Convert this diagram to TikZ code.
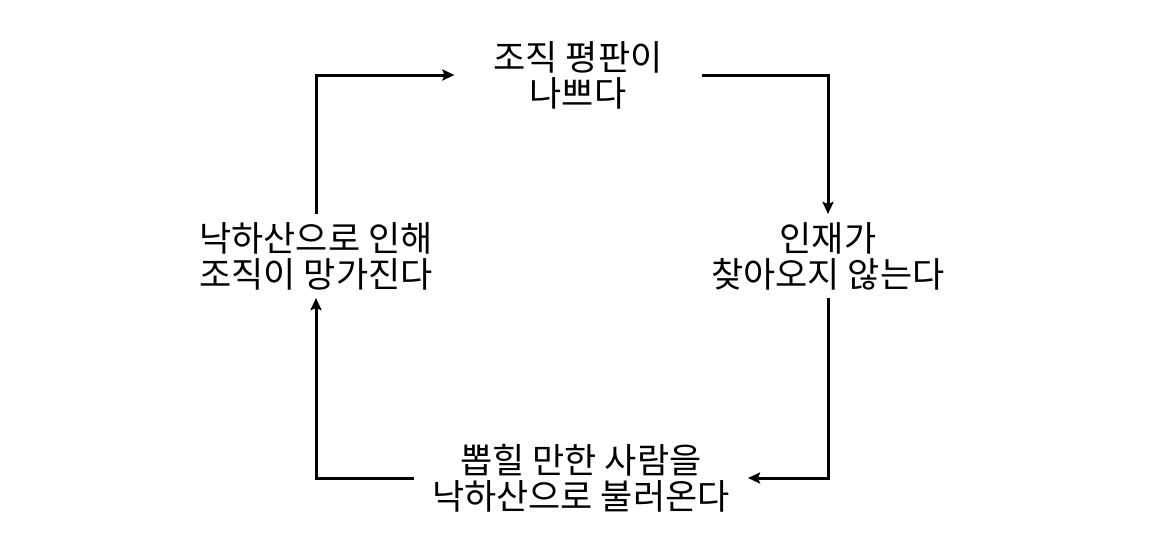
\documentclass[tikz,border=0pt]{standalone}
\usepackage{fontspec}
\newfontfamily\kr{Noto Sans CJK KR}
\usetikzlibrary{arrows.meta}

\begin{document}
\begin{tikzpicture}[x=1pt,y=-1pt,>={Stealth[length=12pt,width=11pt,inset=2pt]},
  stage/.style={align=center,font=\kr\fontsize{35}{36}\selectfont,inner xsep=18pt,inner ysep=8pt},
  flow/.style={->,line width=3pt}]
\useasboundingbox (0,0) rectangle (1160,544);
\node[stage,inner xsep=39pt] (rep) at (578,75) {조직 평판이\\나쁘다};
\node[stage] (talent) at (828,256) {인재가\\찾아오지 않는다};
\node[stage] (para) at (581,478) {뽑힐 만한 사람을\\낙하산으로 불러온다};
\node[stage] (ruin) at (316,256) {낙하산으로 인해\\조직이 망가진다};
\draw[flow] (rep.east) -| (talent.north);
\draw[flow] (talent.south) |- (para.east);
\draw[flow] (para.west) -| (ruin.south);
\draw[flow] (ruin.north) |- (rep.west);
\end{tikzpicture}
\end{document}
